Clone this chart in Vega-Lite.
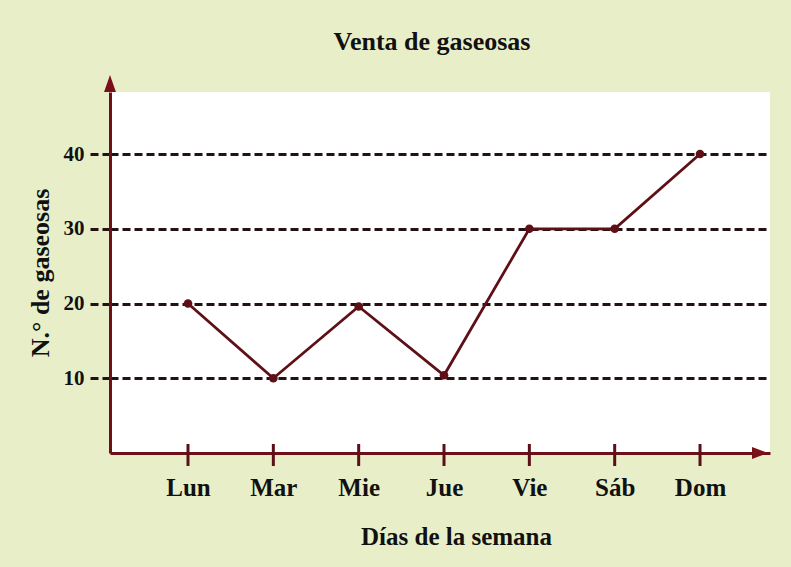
{
  "$schema": "https://vega.github.io/schema/vega-lite/v6.json",
  "width": 660,
  "height": 361,
  "autosize": {"type": "none"},
  "padding": {"left": 110, "top": 92, "right": 21, "bottom": 114},
  "background": "#e8efc8",
  "config": {"view": {"fill": "white", "stroke": null}, "font": "Liberation Serif"},
  "title": {"text": "Venta de gaseosas", "font": "Liberation Serif", "fontSize": 26, "fontWeight": "bold", "color": "#111111", "offset": 20, "dx": -8},
  "data": {"values": [
    {"dia": "Lun", "orden": 1, "ventas": 20},
    {"dia": "Mar", "orden": 2, "ventas": 10},
    {"dia": "Mie", "orden": 3, "ventas": 19.6},
    {"dia": "Jue", "orden": 4, "ventas": 10.4},
    {"dia": "Vie", "orden": 5, "ventas": 30},
    {"dia": "Sáb", "orden": 6, "ventas": 30},
    {"dia": "Dom", "orden": 7, "ventas": 40}
  ]},
  "layer": [
    {
      "mark": {"type": "tick", "orient": "vertical", "size": 22, "thickness": 3, "color": "#5e0e16", "opacity": 1, "yOffset": 2},
      "encoding": {
        "x": {"field": "orden", "type": "quantitative",
          "scale": {"domain": [0.086, 7.82], "nice": false, "zero": false},
          "axis": {"values": [1, 2, 3, 4, 5, 6, 7],
            "labelExpr": "['','Lun','Mar','Mie','Jue','Vie','Sáb','Dom'][datum.value]",
            "title": "Días de la semana", "ticks": false, "grid": false,
            "domainColor": "#6e1018", "domainWidth": 3,
            "labelFont": "Liberation Serif", "labelFontSize": 25, "labelFontWeight": "bold", "labelColor": "#111111", "labelPadding": 22, "labelFlush": false,
            "titleFont": "Liberation Serif", "titleFontSize": 25, "titleFontWeight": "bold", "titleColor": "#111111", "titlePadding": 24, "titleX": 346}},
        "y": {"datum": 0, "type": "quantitative",
          "scale": {"domain": [0, 48.3], "nice": false},
          "axis": {"values": [10, 20, 30, 40], "title": "N.° de gaseosas",
            "grid": true, "gridDash": [8, 4], "gridWidth": 2.8, "gridColor": "#241212", "gridOpacity": 1,
            "tickDash": [8, 4], "tickSize": 24, "tickWidth": 2.8, "tickColor": "#241212",
            "domainColor": "#6e1018", "domainWidth": 3,
            "labelFont": "Liberation Serif", "labelFontSize": 21, "labelFontWeight": "bold", "labelColor": "#111111", "labelPadding": 2,
            "titleFont": "Liberation Serif", "titleFontSize": 26, "titleFontWeight": "bold", "titleColor": "#111111", "titlePadding": 10}}
      }
    },
    {
      "mark": {"type": "line", "color": "#5e1016", "strokeWidth": 2.8},
      "encoding": {
        "x": {"field": "orden", "type": "quantitative"},
        "y": {"field": "ventas", "type": "quantitative"}
      }
    },
    {
      "mark": {"type": "point", "filled": true, "size": 75, "color": "#5e1016", "opacity": 1},
      "encoding": {
        "x": {"field": "orden", "type": "quantitative"},
        "y": {"field": "ventas", "type": "quantitative"}
      }
    },
    {
      "data": {"values": [{}]},
      "mark": {"type": "point", "shape": "M0,-1L0.7,1L-0.7,1Z", "size": 289, "filled": true, "color": "#7a1018", "opacity": 1},
      "encoding": {
        "x": {"datum": 0.086, "type": "quantitative"},
        "y": {"datum": 49.44, "type": "quantitative"}
      }
    },
    {
      "data": {"values": [{}]},
      "mark": {"type": "point", "shape": "M1,0L-1,0.75L-1,-0.75Z", "size": 256, "filled": true, "color": "#7a1018", "opacity": 1},
      "encoding": {
        "x": {"datum": 7.703, "type": "quantitative"},
        "y": {"datum": 0, "type": "quantitative"}
      }
    }
  ]
}
